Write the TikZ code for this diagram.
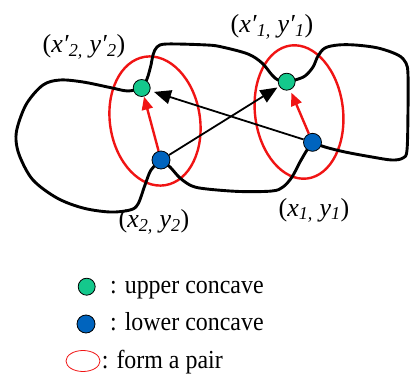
\documentclass[tikz,border=0pt]{standalone}
\usepackage{fontspec}
\setmainfont{Liberation Serif}
\newfontfamily\legfont[FakeStretch=0.92]{Liberation Serif}
\usetikzlibrary{arrows.meta,shapes.geometric}
\definecolor{cgreen}{RGB}{20,200,140}
\definecolor{cblue}{RGB}{0,100,190}
\definecolor{cred}{RGB}{240,20,20}
\begin{document}
\begin{tikzpicture}[x=1pt,y=-1pt,
  curve/.style={line width=2.9pt, line join=round, line cap=round},
  pairell/.style={draw=cred, line width=2.4pt},
  redarr/.style={draw=cred, line width=2.4pt, -{Triangle[length=13pt,width=11pt]}},
  blkarr/.style={draw=black, line width=1.8pt, -{Triangle[length=17pt,width=14pt]}},
  upper/.style={circle, draw=black, line width=0.8pt, fill=cgreen, minimum size=17pt, inner sep=0pt},
  lower/.style={circle, draw=black, line width=0.8pt, fill=cblue, minimum size=18pt, inner sep=0pt},
  coordlabel/.style={font=\fontsize{26}{30}\selectfont, inner sep=0pt},
  legtext/.style={font=\legfont\fontsize{26}{30}\selectfont, inner sep=0pt, anchor=base west},
  legell/.style={draw=cred, line width=0.8pt, ellipse, minimum width=34pt, minimum height=21pt, inner sep=0pt}
]
\useasboundingbox (0,0) rectangle (410,375);
\coordinate (pg2) at (141.7,88);
\coordinate (pb2) at (161,160);
\coordinate (pg1) at (286.7,81.7);
\coordinate (pb1) at (312.5,142.3);
\coordinate (e2) at (155,121);
\coordinate (e1) at (299,112);
% pair ellipses
\draw[pairell, rotate around={9:(e2)}] (e2) ellipse [x radius=45, y radius=65];
\draw[pairell, rotate around={7:(e1)}] (e1) ellipse [x radius=44, y radius=67];
% closed contour in four pieces
\draw[curve] plot[smooth, tension=0.55] coordinates {(pg2) (128,91) (110,87.5) (83,82) (60,80) (43,85) (27,103) (18,125) (16,140) (20,157) (33,180) (57,198) (83,208) (110,212) (130,210) (138,204) (145,185) (151,170) (pb2)};
\draw[curve] plot[smooth, tension=0.55] coordinates {(pb2) (170,167) (180,178) (192,186) (207,189) (240,191.5) (272,191) (283,187) (292,177) (300,162) (307,150) (pb1)};
\draw[curve] plot[smooth, tension=0.55] coordinates {(pb1) (325,147) (345,152) (372,157) (392,160) (403,158) (407,150) (408,110) (408,75) (406,63) (398,55) (378,48) (355,45) (338,45) (325,48) (318,56) (313,67) (305,76) (295,80) (pg1)};
\draw[curve] plot[smooth, tension=0.55] coordinates {(pg1) (278,80) (272,75) (262,63) (248,54) (222,47) (207,45) (167,44) (157,47) (153,55) (151,65) (147,79) (pg2)};
% concave points
\node[upper] (g2) at (pg2) {};
\node[lower] (b2) at (pb2) {};
\node[upper] (g1) at (pg1) {};
\node[lower] (b1) at (pb1) {};
% arrows
\draw[redarr] (b2) -- (g2);
\draw[redarr, shorten >=3pt] (b1) -- (g1);
\draw[blkarr, shorten >=4pt] (b1) -- (g2);
\draw[blkarr, shorten >=2pt] (b2) -- (g1);
% coordinate labels
\node[coordlabel] (l2p) at (84,47) {(\textit{x′}\textsubscript{\textit{2,}} \textit{y′}\textsubscript{\textit{2}})};
\node[coordlabel] (l1p) at (272,27) {(\textit{x′}\textsubscript{\textit{1,}} \textit{y′}\textsubscript{\textit{1}})};
\node[coordlabel] (l2) at (154,222) {(\textit{x}\textsubscript{\textit{2,}} \textit{y}\textsubscript{\textit{2}})};
\node[coordlabel] (l1) at (314,210.5) {(\textit{x}\textsubscript{\textit{1,}} \textit{y}\textsubscript{\textit{1}})};
% legend
\node[upper] (lg) at (86.7,286.7) {};
\node[lower] (lb) at (86,324) {};
\node[legell] (lr) at (83,361) {};
\node[legtext] (t1) at (110,293) {: upper concave};
\node[legtext] (t2) at (110,330.7) {: lower concave};
\node[legtext] (t3) at (101.7,368) {: form a pair};
\end{tikzpicture}
\end{document}
